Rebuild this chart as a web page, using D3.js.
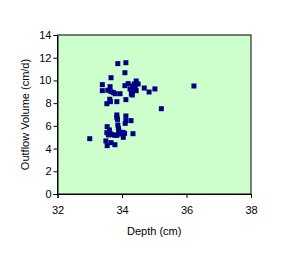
<!DOCTYPE html>
<html>
<head>
<meta charset="utf-8">
<script src="https://cdn.jsdelivr.net/npm/d3@7"></script>
<style>
  body { margin: 0; background: #fff; }
  text { font-family: "Liberation Sans", Arial, sans-serif; font-size: 11px; fill: #000; }
</style>
</head>
<body>
<script>
// depth (cm) and outflow volume (cm/d)
var depth = [33.87, 34.12, 34.09, 33.66, 33.39, 33.39, 33.63, 33.56, 33.66, 33.74,
             33.79, 33.94, 33.62, 33.64, 33.53, 33.84, 34.12, 34.09, 34.19, 34.25,
             34.29, 34.32, 34.44, 34.38, 34.33, 34.41, 34.35, 34.44, 34.50, 34.29,
             34.32, 34.69, 34.84, 35.02, 35.22, 36.23,
             33.84, 33.84, 33.86, 34.12, 34.12, 34.10, 34.28, 33.54, 33.87, 33.89,
             33.61, 33.90, 33.53, 33.63, 33.58, 33.71, 33.78, 33.84, 33.90, 33.96,
             34.03, 34.08, 34.04, 34.34, 33.00, 33.50, 33.54, 33.66, 33.78];
var outflow = [11.48, 11.56, 10.68, 10.24, 9.63, 9.10, 9.45, 9.13, 9.01, 8.92,
               8.83, 8.83, 8.34, 8.13, 7.95, 8.13, 8.31, 9.54, 9.72, 9.25,
               8.80, 8.72, 9.95, 9.69, 9.51, 9.39, 9.22, 9.10, 9.69, 9.16,
               8.98, 9.33, 8.98, 9.25, 7.51, 9.51,
               6.96, 6.75, 6.57, 6.87, 6.46, 6.22, 6.46, 5.93, 6.08, 5.78,
               5.64, 5.58, 5.40, 5.34, 5.20, 5.22, 5.17, 5.17, 5.28, 5.40,
               5.43, 5.34, 4.99, 5.31, 4.87, 4.67, 4.26, 4.52, 4.34];
var xTicks = [32, 34, 36, 38];
var yTicks = [0, 2, 4, 6, 8, 10, 12, 14];

var width = 285, height = 268;
var plotLeft = 57.5, plotRight = 251, plotTop = 35, plotBottom = 194;

var svg = d3.select("body").append("svg")
    .attr("width", width)
    .attr("height", height);

var x = d3.scaleLinear().domain([32, 38]).range([plotLeft, plotRight]);
var y = d3.scaleLinear().domain([0, 14]).range([plotBottom, plotTop]);

// plot area
svg.append("rect")
    .attr("x", plotLeft).attr("y", plotTop)
    .attr("width", plotRight - plotLeft).attr("height", plotBottom - plotTop)
    .attr("fill", "#ccffcc")
    .attr("stroke", "#000")
    .attr("stroke-width", 1);

var xAxis = svg.append("g")
    .attr("transform", "translate(0," + plotBottom + ")")
    .call(d3.axisBottom(x).tickValues(xTicks).tickSize(4).tickPadding(8).tickFormat(d3.format("d")));
var yAxis = svg.append("g")
    .attr("transform", "translate(" + plotLeft + ",0)")
    .call(d3.axisLeft(y).tickValues(yTicks).tickSize(4).tickPadding(2).tickFormat(d3.format("d")));

[xAxis, yAxis].forEach(function (g) {
    g.select(".domain").attr("stroke", "#000");
    g.selectAll(".tick line").attr("stroke", "#000");
    g.selectAll("text").attr("font-size", 11).attr("font-family", null).attr("fill", "#000");
});

// points
svg.append("g").selectAll("rect")
    .data(depth)
    .enter().append("rect")
    .attr("x", function (d) { return x(d) - 2.5; })
    .attr("y", function (d, i) { return y(outflow[i]) - 2.5; })
    .attr("width", 5)
    .attr("height", 5)
    .attr("fill", "#000080");

// axis titles
svg.append("text")
    .attr("x", (plotLeft + plotRight) / 2)
    .attr("y", 235)
    .attr("text-anchor", "middle")
    .text("Depth (cm)");

svg.append("text")
    .attr("transform", "translate(29," + ((plotTop + plotBottom) / 2) + ") rotate(-90)")
    .attr("text-anchor", "middle")
    .text("Outflow Volume (cm/d)");
</script>
</body>
</html>
